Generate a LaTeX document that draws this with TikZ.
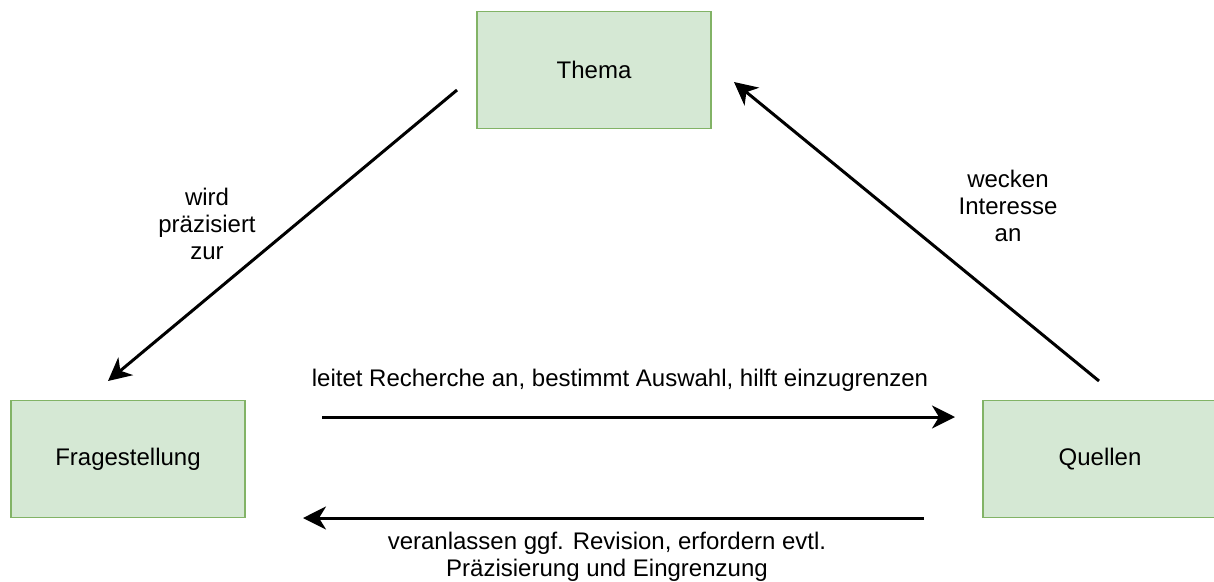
\documentclass[tikz,border=0pt]{standalone}
\usepackage{fontspec}
\setmainfont{Liberation Sans}
\usetikzlibrary{arrows.meta}
\definecolor{boxfill}{HTML}{D5E8D4}
\definecolor{boxline}{HTML}{82B366}

\begin{document}
\begin{tikzpicture}
  [x=1pt,y=-1pt,
   every node/.style={font=\fontsize{24}{27}\selectfont,align=center},
   box/.style={draw=boxline,fill=boxfill,line width=1.8pt,minimum width=234pt,minimum height=117pt},
   link/.style={line width=3pt,-{Stealth[length=23pt,width=23pt,inset=7pt]}}]
  \useasboundingbox (0,0) rectangle (1214,581);
  \node[box] (thema) at (594,70) {Thema};
  \node[box] (frage) at (128,459) {Fragestellung};
  \node[box] (quellen) at (1100,459) {Quellen};

  \coordinate (a1) at (457,90);
  \coordinate (a2) at (108,381);
  \coordinate (b1) at (1099,381);
  \coordinate (b2) at (734,82);
  \coordinate (c1) at (322,417);
  \coordinate (c2) at (955,417);
  \coordinate (d1) at (924,518);
  \coordinate (d2) at (303,518);

  \foreach \from/\to in {a1/a2,b1/b2,c1/c2,d1/d2}
    \draw[link] (\from) -- (\to);

  \node (praez) at (207,224) {wird\\präzisiert\\zur};
  \node (interesse) at (1008,206) {wecken\\Interesse\\an};
  \node (recherche) at (620,380) {leitet Recherche an, bestimmt Auswahl, hilft einzugrenzen};
  \node (revision) at (607,557) {veranlassen ggf. Revision, erfordern evtl.\\Präzisierung und Eingrenzung};

\end{tikzpicture}
\end{document}
